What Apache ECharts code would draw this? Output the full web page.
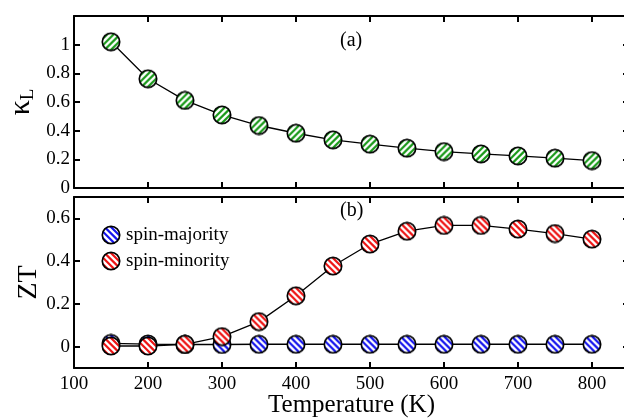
<!DOCTYPE html>
<html><head><meta charset="utf-8">
<script src="https://cdn.jsdelivr.net/npm/echarts@6/dist/echarts.min.js"></script>
<style>html,body{margin:0;padding:0;background:#fff}#c{width:624px;height:419px}</style>
</head><body><div id="c"></div>
<script>
var temperatures = [150,200,250,300,350,400,450,500,550,600,650,700,750,800];
var kappaL = [1.02,0.762,0.611,0.51,0.436,0.382,0.336,0.306,0.278,0.254,0.238,0.224,0.208,0.191];
var ztMajority = [0.015,0.012,0.01,0.01,0.011,0.011,0.011,0.011,0.011,0.011,0.011,0.011,0.011,0.011];
var ztMinority = [0.003,0.003,0.011,0.047,0.117,0.238,0.377,0.48,0.54,0.567,0.567,0.55,0.529,0.503];
var xTicks = [100,200,300,400,500,600,700,800];
var kTicks = [0,0.2,0.4,0.6,0.8,1,1.2];
var kLabels = [0,0.2,0.4,0.6,0.8,1];
var ztTicks = [0,0.2,0.4,0.6];

var SYM = 20;
function stripedCircle(color, dir){
  var S=SYM, c=document.createElement('canvas'); c.width=S; c.height=S;
  var g=c.getContext('2d');
  var r=S/2-1.3;
  g.save(); g.beginPath(); g.arc(S/2,S/2,r,0,Math.PI*2); g.clip();
  g.fillStyle=color; g.fillRect(0,0,S,S);
  g.strokeStyle='#fff'; g.lineWidth=2.3;
  var P=6.4;
  for (var off=-2*S; off<=2*S; off+=P){
    g.beginPath();
    if(dir==='/'){ g.moveTo(off,S); g.lineTo(off+S,0);} else { g.moveTo(off,0); g.lineTo(off+S,S);}
    g.stroke();
  }
  g.restore();
  g.beginPath(); g.arc(S/2,S/2,r,0,Math.PI*2); g.lineWidth=1.7; g.strokeStyle='#000'; g.stroke();
  return 'image://'+c.toDataURL();
}
var FONT='Liberation Serif';
var chart=echarts.init(document.getElementById('c'),null,{renderer:'canvas'});
function xAx(gi, pos, labels){
  return {type:'value', gridIndex:gi, position:pos, min:100, max:850,
    axisLine:{onZero:false, lineStyle:{color:'#000',width:2}},
    axisTick:{inside:true, length:6, customValues:xTicks, lineStyle:{color:'#000',width:2}},
    axisLabel:{show:labels, customValues:xTicks, color:'#000', fontFamily:FONT, fontSize:19, margin:7},
    splitLine:{show:false},
    name: labels?'Temperature (K)':'', nameLocation:'middle', nameGap:25, nameMoveOverlap:false,
    nameTextStyle:{color:'#000', fontFamily:FONT, fontSize:25}};
}
function yAx(gi, pos, min, max, ticks, labels, name, gap){
  return {type:'value', gridIndex:gi, position:pos, min:min, max:max,
    axisLine:{onZero:false, lineStyle:{color:'#000',width:2}},
    axisTick:{inside:true, length:6, customValues:ticks, lineStyle:{color:'#000',width:2}},
    axisLabel:{show:!!labels, customValues:labels||ticks, color:'#000', fontFamily:FONT, fontSize:19, margin:4},
    splitLine:{show:false},
    name:name||'', nameLocation:'middle', nameGap:gap||40, nameRotate:90, nameMoveOverlap:false,
    nameTextStyle:{color:'#000', fontFamily:FONT, fontSize:28, rich:{k:{fontFamily:FONT,fontSize:30},sub:{fontFamily:FONT,fontSize:19,padding:[14,0,0,0]}}}};
}
var green=stripedCircle('#1a9a1a','/'), blue=stripedCircle('#1414ee','\\'), red=stripedCircle('#ee1414','\\');
var ser=function(name, xi, yi, data, sym){
  return {name:name, type:'line', xAxisIndex:xi, yAxisIndex:yi,
    data:temperatures.map(function(t,i){return [t,data[i]];}),
    symbol:sym, symbolSize:SYM, showAllSymbol:true,
    lineStyle:{color:'#000', width:1.3},
    itemStyle:{color:'#000'},
    emphasis:{disabled:true}, animation:false, z:3};
};
var gridBase={outerBoundsMode:'none', containLabel:false};
chart.setOption({
  animation:false,
  grid:[Object.assign({left:74, top:16, width:555, height:172},gridBase),
        Object.assign({left:74, top:197, width:555, height:171},gridBase)],
  xAxis:[xAx(0,'bottom',false), xAx(0,'top',false), xAx(1,'bottom',true), xAx(1,'top',false)],
  yAxis:[yAx(0,'left',0,1.2,kTicks,kLabels,'{k|κ}{sub|L}',36), yAx(0,'right',0,1.2,kTicks,null),
         yAx(1,'left',-0.1,0.7,ztTicks,ztTicks,'ZT',31), yAx(1,'right',-0.1,0.7,ztTicks,null)],
  legend:{left:96, top:220, orient:'vertical', itemGap:6, itemWidth:20, itemHeight:20,
    data:[{name:'spin-majority', icon:blue},{name:'spin-minority', icon:red}],
    textStyle:{color:'#000', fontFamily:FONT, fontSize:19}},
  series:[ser('κL',0,0,kappaL,green), ser('spin-majority',2,2,ztMajority,blue), ser('spin-minority',2,2,ztMinority,red)],
  graphic:[
    {type:'text', left:340, top:31, style:{text:'(a)', font:'20px "Liberation Serif"', fill:'#000'}},
    {type:'text', left:340, top:201, style:{text:'(b)', font:'20px "Liberation Serif"', fill:'#000'}}
  ]
});
</script></body></html>
